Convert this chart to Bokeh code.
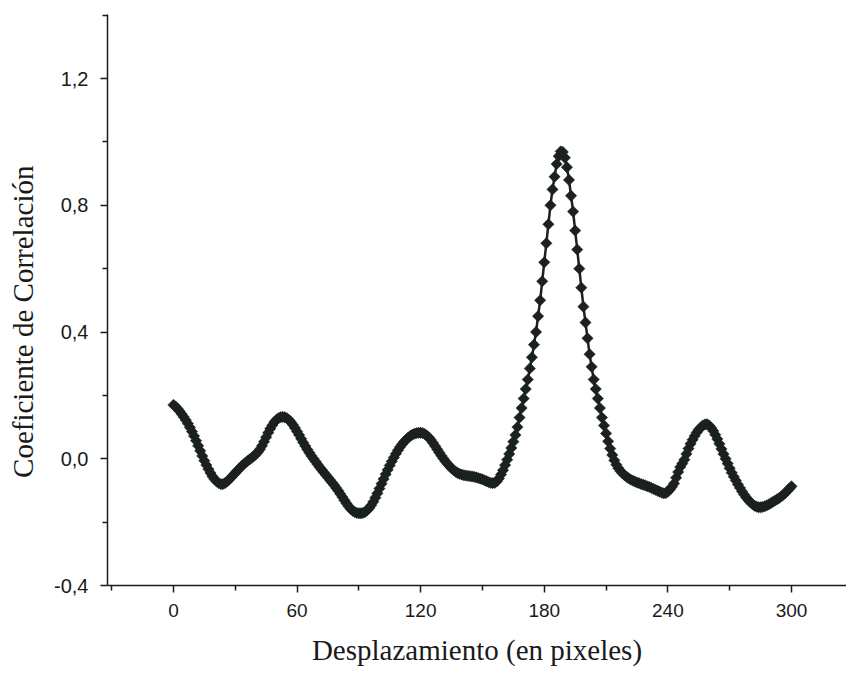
import numpy as np
from bokeh.plotting import figure
from bokeh.models import FixedTicker, CustomJSTickFormatter, Range1d
from bokeh.embed import file_html
from bokeh.resources import INLINE

# Displacement (pixels) 0..300, step 1
displacement = list(range(0, 301))

# Correlation coefficient
correlation = [
    0.170, 0.165, 0.158, 0.150, 0.141, 0.132, 0.122, 0.111, 0.099, 0.086,
    0.072, 0.057, 0.041, 0.025, 0.009, -0.006, -0.020, -0.033, -0.045, -0.056,
    -0.065, -0.072, -0.077, -0.080, -0.080, -0.077, -0.072, -0.066, -0.059, -0.052,
    -0.045, -0.038, -0.031, -0.024, -0.018, -0.012, -0.007, -0.002, 0.003, 0.008,
    0.014, 0.021, 0.030, 0.041, 0.054, 0.068, 0.082, 0.095, 0.106, 0.116,
    0.123, 0.128, 0.131, 0.132, 0.131, 0.128, 0.123, 0.116, 0.107, 0.097,
    0.086, 0.075, 0.063, 0.051, 0.040, 0.029, 0.019, 0.009, 0.000, -0.009,
    -0.018, -0.027, -0.035, -0.043, -0.051, -0.059, -0.067, -0.075, -0.083, -0.092,
    -0.101, -0.111, -0.121, -0.131, -0.141, -0.150, -0.158, -0.164, -0.168, -0.171,
    -0.172, -0.172, -0.171, -0.168, -0.163, -0.156, -0.147, -0.136, -0.123, -0.109,
    -0.094, -0.079, -0.064, -0.049, -0.035, -0.021, -0.008, 0.004, 0.016, 0.027,
    0.037, 0.046, 0.054, 0.061, 0.067, 0.072, 0.076, 0.079, 0.081, 0.082,
    0.082, 0.081, 0.078, 0.073, 0.067, 0.059, 0.050, 0.040, 0.030, 0.020,
    0.010, 0.001, -0.008, -0.016, -0.023, -0.030, -0.036, -0.041, -0.045, -0.048,
    -0.050, -0.052, -0.053, -0.054, -0.055, -0.056, -0.057, -0.059, -0.061, -0.063,
    -0.065, -0.068, -0.071, -0.074, -0.076, -0.077, -0.076, -0.071, -0.062, -0.050,
    -0.036, -0.020, -0.003, 0.015, 0.034, 0.054, 0.075, 0.100, 0.130, 0.160,
    0.190, 0.220, 0.250, 0.285, 0.320, 0.360, 0.400, 0.450, 0.500, 0.560,
    0.620, 0.680, 0.740, 0.800, 0.850, 0.890, 0.930, 0.955, 0.970, 0.968,
    0.950, 0.920, 0.880, 0.830, 0.780, 0.720, 0.660, 0.600, 0.540, 0.480,
    0.430, 0.380, 0.330, 0.290, 0.250, 0.220, 0.190, 0.160, 0.130, 0.105,
    0.080, 0.055, 0.032, 0.012, -0.005, -0.019, -0.030, -0.039, -0.046, -0.052,
    -0.057, -0.062, -0.066, -0.069, -0.072, -0.075, -0.077, -0.080, -0.082, -0.084,
    -0.087, -0.089, -0.092, -0.095, -0.098, -0.101, -0.104, -0.107, -0.109, -0.108,
    -0.104, -0.097, -0.088, -0.078, -0.060, -0.042, -0.026, -0.015, -0.003, 0.015,
    0.032, 0.047, 0.060, 0.072, 0.083, 0.092, 0.099, 0.105, 0.108, 0.109,
    0.105, 0.098, 0.088, 0.076, 0.062, 0.047, 0.031, 0.015, 0.000, -0.015,
    -0.030, -0.044, -0.057, -0.069, -0.081, -0.092, -0.103, -0.113, -0.122, -0.130,
    -0.137, -0.143, -0.148, -0.151, -0.153, -0.153, -0.152, -0.150, -0.147, -0.144,
    -0.140, -0.136, -0.132, -0.128, -0.124, -0.119, -0.114, -0.108, -0.101, -0.094,
    -0.087,
]

x_ticks = [0, 60, 120, 180, 240, 300]
x_minor = [-30, 30, 90, 150, 210, 270, 330]
y_ticks = [-0.4, 0.0, 0.4, 0.8, 1.2]
y_minor = [-0.2, 0.2, 0.6, 1.0, 1.4]

x_title = "Desplazamiento (en pixeles)"
y_title = "Coeficiente de Correlación"

INK = "#1b211e"
AXIS = "#1a1a1a"

p = figure(width=846, height=675, output_backend="svg", toolbar_location=None,
           x_range=Range1d(-32, 326.7), y_range=Range1d(-0.4, 1.402),
           min_border_left=107, min_border_right=0, min_border_top=14,
           min_border_bottom=90)
p.outline_line_color = None
p.grid.visible = False
p.background_fill_color = "white"
p.border_fill_color = "white"

p.line(displacement, correlation, line_color=INK, line_width=2.5)
p.scatter(displacement, correlation, marker="square", angle=np.pi / 4, size=8,
          fill_color=INK, line_color=INK, line_width=0.5)

for ax in (p.xaxis[0], p.yaxis[0]):
    ax.axis_line_color = AXIS
    ax.axis_line_width = 1.5
    ax.major_tick_line_color = AXIS
    ax.major_tick_line_width = 1.5
    ax.minor_tick_line_color = AXIS
    ax.minor_tick_line_width = 1.5
    ax.major_tick_in = 0
    ax.major_tick_out = 7
    ax.minor_tick_in = 0
    ax.minor_tick_out = 5
    ax.major_label_text_font = "Liberation Sans"
    ax.major_label_text_font_size = "19px"
    ax.major_label_text_color = "#1a1a1a"
    ax.axis_label_text_font = "Liberation Serif"
    ax.axis_label_text_font_size = "29px"
    ax.axis_label_text_font_style = "normal"
    ax.axis_label_text_color = "#1a1a1a"

p.yaxis.major_label_text_font_size = "20px"

p.xaxis.ticker = FixedTicker(ticks=x_ticks, minor_ticks=x_minor)
p.yaxis.ticker = FixedTicker(ticks=y_ticks, minor_ticks=y_minor)
p.yaxis.formatter = CustomJSTickFormatter(
    code="return tick.toFixed(1).replace('.', ',');")
p.xaxis.major_label_standoff = 11
p.yaxis.major_label_standoff = 12
p.xaxis.axis_label = x_title
# trailing no-break spaces shift the rotated title slightly downward, as in the original
p.yaxis.axis_label = y_title + "\u00a0" * 6
p.xaxis.axis_label_standoff = 14
p.yaxis.axis_label_standoff = 12

open("out.html", "w").write(file_html(p, INLINE))
